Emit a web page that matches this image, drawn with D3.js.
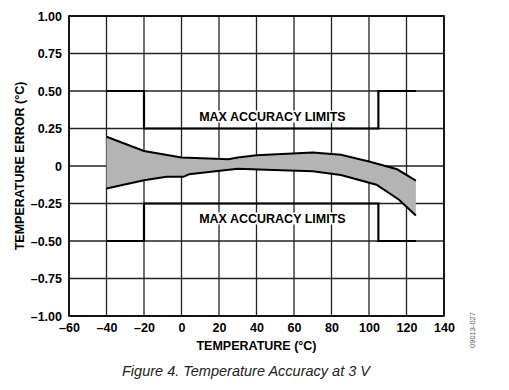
<!DOCTYPE html>
<html>
<head>
<meta charset="utf-8">
<script src="https://cdn.jsdelivr.net/npm/d3@7"></script>
<style>
  body { margin: 0; background: #fff; }
  text { font-family: "Liberation Sans", Arial, sans-serif; }
</style>
</head>
<body>
<div class="chart"></div>
<script>
// upper and lower edge of the error band
var upperTemp = [-40, -20, 0, 25, 30, 40, 70, 85, 100, 115, 125];
var upperErr = [0.195, 0.10, 0.057, 0.045, 0.057, 0.072, 0.09, 0.075, 0.03, -0.022, -0.098];
var lowerTemp = [-40, -20, -8, 1, 4, 30, 45, 70, 85, 104, 116, 125];
var lowerErr = [-0.15, -0.095, -0.072, -0.072, -0.055, -0.018, -0.025, -0.035, -0.06, -0.125, -0.225, -0.33];

// max accuracy limits (step lines)
var limitTemp = [-40, -20, -20, 105, 105, 125];
var limitUpper = [0.5, 0.5, 0.25, 0.25, 0.5, 0.5];
var limitLower = [-0.5, -0.5, -0.25, -0.25, -0.5, -0.5];

var xTicks = [-60, -40, -20, 0, 20, 40, 60, 80, 100, 120, 140];
var yTicks = [-1, -0.75, -0.5, -0.25, 0, 0.25, 0.5, 0.75, 1];

var svgWidth = 509;
var svgHeight = 390;
var margin = { top: 16, right: 65, bottom: 74, left: 69 };
var width = svgWidth - margin.left - margin.right;
var height = svgHeight - margin.top - margin.bottom;

var svg = d3.select(".chart")
  .append("svg")
  .attr("width", svgWidth)
  .attr("height", svgHeight);

var chartGroup = svg.append("g")
  .attr("transform", `translate(${margin.left}, ${margin.top})`);

var xScale = d3.scaleLinear().domain([-60, 140]).range([0, width]);
var yScale = d3.scaleLinear().domain([-1, 1]).range([height, 0]);

// grid
chartGroup.append("g")
  .selectAll("line")
  .data(xTicks)
  .enter()
  .append("line")
  .attr("x1", d => xScale(d)).attr("x2", d => xScale(d))
  .attr("y1", 0).attr("y2", height)
  .attr("stroke", "#222").attr("stroke-width", 1.3);

chartGroup.append("g")
  .selectAll("line")
  .data(yTicks)
  .enter()
  .append("line")
  .attr("y1", d => yScale(d)).attr("y2", d => yScale(d))
  .attr("x1", 0).attr("x2", width)
  .attr("stroke", "#222").attr("stroke-width", 1.3);

// axes (labels only)
var xAxis = d3.axisBottom(xScale).tickValues(xTicks).tickSize(0).tickPadding(7)
  .tickFormat(d => d < 0 ? "\u2013" + Math.abs(d) : d);
var yAxis = d3.axisLeft(yScale).tickValues(yTicks).tickSize(0).tickPadding(7)
  .tickFormat(d => d === 0 ? "0" : (d < 0 ? "\u2013" + Math.abs(d).toFixed(2) : d.toFixed(2)));

var gx = chartGroup.append("g")
  .attr("transform", `translate(0, ${height})`)
  .call(xAxis);
var gy = chartGroup.append("g").call(yAxis);
[gx, gy].forEach(function(g) {
  g.select(".domain").remove();
  g.selectAll("text")
    .attr("font-family", "Liberation Sans, Arial, sans-serif")
    .attr("font-size", 12.5)
    .attr("font-weight", "bold")
    .attr("fill", "#000");
});

// band
var curve = d3.line().x(d => xScale(d[0])).y(d => yScale(d[1]));
var bandPts = upperTemp.map((t, i) => [t, upperErr[i]])
  .concat(lowerTemp.map((t, i) => [t, lowerErr[i]]).reverse());
chartGroup.append("path")
  .attr("d", curve(bandPts) + "Z")
  .attr("fill", "#b4b4b4")
  .attr("stroke", "none");

chartGroup.append("path")
  .attr("d", curve(upperTemp.map((t, i) => [t, upperErr[i]])))
  .attr("fill", "none").attr("stroke", "#000").attr("stroke-width", 2);
chartGroup.append("path")
  .attr("d", curve(lowerTemp.map((t, i) => [t, lowerErr[i]])))
  .attr("fill", "none").attr("stroke", "#000").attr("stroke-width", 2);

// limit lines
[limitUpper, limitLower].forEach(function(vals) {
  chartGroup.append("path")
    .attr("d", curve(limitTemp.map((t, i) => [t, vals[i]])))
    .attr("fill", "none").attr("stroke", "#000").attr("stroke-width", 2.2);
});

// labels for limits, with white box behind
[0.25, -0.25].forEach(function(v) {
  var ty = v > 0 ? yScale(v) - 8 : yScale(v) + 19;
  var box = chartGroup.append("rect").attr("fill", "#fff");
  var t = chartGroup.append("text")
    .attr("x", xScale(48.5))
    .attr("y", ty)
    .attr("text-anchor", "middle")
    .attr("font-size", 12.5)
    .attr("font-weight", "bold")
    .text("MAX ACCURACY LIMITS");
  var bb = t.node().getBBox();
  box.attr("x", bb.x - 2).attr("y", bb.y + 1)
    .attr("width", bb.width + 4).attr("height", bb.height - 2);
});

// frame
chartGroup.append("rect")
  .attr("width", width).attr("height", height)
  .attr("fill", "none").attr("stroke", "#000").attr("stroke-width", 1.6);

// axis titles
svg.append("text")
  .attr("transform", `translate(24, ${margin.top + height / 2}) rotate(-90)`)
  .attr("text-anchor", "middle")
  .attr("font-size", 12.5)
  .attr("font-weight", "bold")
  .text("TEMPERATURE ERROR (°C)");

svg.append("text")
  .attr("x", margin.left + width / 2)
  .attr("y", 350)
  .attr("text-anchor", "middle")
  .attr("font-size", 12.5)
  .attr("font-weight", "bold")
  .text("TEMPERATURE (°C)");

svg.append("text")
  .attr("x", 246)
  .attr("y", 376)
  .attr("text-anchor", "middle")
  .attr("font-style", "italic")
  .attr("font-size", 14.5)
  .attr("fill", "#222")
  .text("Figure 4. Temperature Accuracy at 3 V");

svg.append("text")
  .attr("transform", "translate(475, 330) rotate(-90)")
  .attr("text-anchor", "middle")
  .attr("font-size", 7.5)
  .attr("fill", "#555")
  .text("09013-027");
</script>
</body>
</html>
